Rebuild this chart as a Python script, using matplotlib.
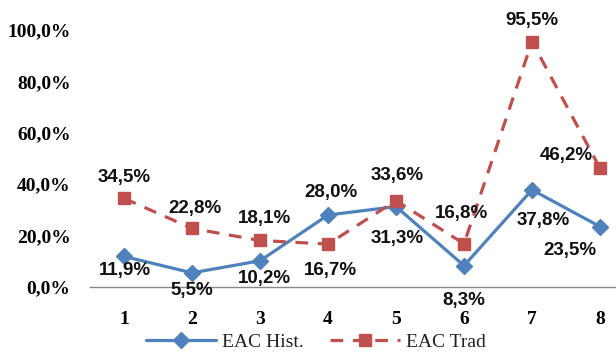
import matplotlib
matplotlib.use("Agg")
import matplotlib.pyplot as plt
from matplotlib.ticker import FuncFormatter

categories = [1, 2, 3, 4, 5, 6, 7, 8]
eac_hist = [11.9, 5.5, 10.2, 28.0, 31.3, 8.3, 37.8, 23.5]
eac_trad = [34.5, 22.8, 18.1, 16.7, 33.6, 16.8, 95.5, 46.2]
y_ticks = [0, 20, 40, 60, 80, 100]

blue = "#4F81BD"
red = "#C0504D"

def pct(v):
    return f"{v:.1f}%".replace(".", ",")

W, H = 616, 353
fig = plt.figure(figsize=(W / 100, H / 100), dpi=100)
left, right = 90 / W, 634 / W
bottom, top = 1 - 287 / H, 1 - 30 / H
ax = fig.add_axes([left, bottom, right - left, top - bottom])

ax.plot(categories, eac_hist, color=blue, lw=2.3, marker="D", ms=8,
        label="EAC Hist.", solid_capstyle="round")
ax.plot(categories, eac_trad, color=red, lw=2.3, ls=(0, (4, 3)), marker="s",
        ms=9, label="EAC Trad", dash_capstyle="butt")

ax.set_xlim(0.5, 8.5)
ax.set_ylim(0, 100)
ax.set_yticks(y_ticks)
ax.yaxis.set_major_formatter(FuncFormatter(lambda v, _: pct(v)))
ax.set_xticks(categories)

for s in ("top", "right", "left"):
    ax.spines[s].set_visible(False)
ax.spines["bottom"].set_color("#888888")
ax.spines["bottom"].set_linewidth(1.0)
ax.tick_params(axis="both", length=0)
ax.tick_params(axis="y", pad=14)
ax.tick_params(axis="x", pad=17)
for lab in ax.get_yticklabels() + ax.get_xticklabels():
    lab.set_fontfamily("Liberation Serif")
    lab.set_fontweight("bold")
    lab.set_fontsize(14)

lab_font = dict(fontfamily="Liberation Sans", fontweight="bold", fontsize=13.5,
                color="#111111", ha="center")

# label offsets in points (dx, dy)
hist_off = [(1, -10), (0, -13), (3, -13), (2, 16), (1, -23), (0, -25), (8, -22), (-22, -17)]
trad_off = [(0, 15), (2, 14), (3, 16), (2, -19), (1, 18), (-2, 22), (0, 15), (-24, 9)]

for x, v, (dx, dy) in zip(categories, eac_hist, hist_off):
    ax.annotate(pct(v), (x, v), xytext=(dx, dy), textcoords="offset points",
                va="center", annotation_clip=False, **lab_font)
for x, v, (dx, dy) in zip(categories, eac_trad, trad_off):
    ax.annotate(pct(v), (x, v), xytext=(dx, dy), textcoords="offset points",
                va="center", annotation_clip=False, **lab_font)

leg = fig.legend(loc="center", bbox_to_anchor=(316 / W, 1 - 342 / H), ncol=2,
                 frameon=False, handlelength=3.6, handletextpad=0.3,
                 columnspacing=1.4, borderpad=0.1,
                 prop=dict(family="Liberation Serif", size=14))
for t in leg.get_texts():
    t.set_color("#222222")

fig.savefig("out.png", dpi=100)
